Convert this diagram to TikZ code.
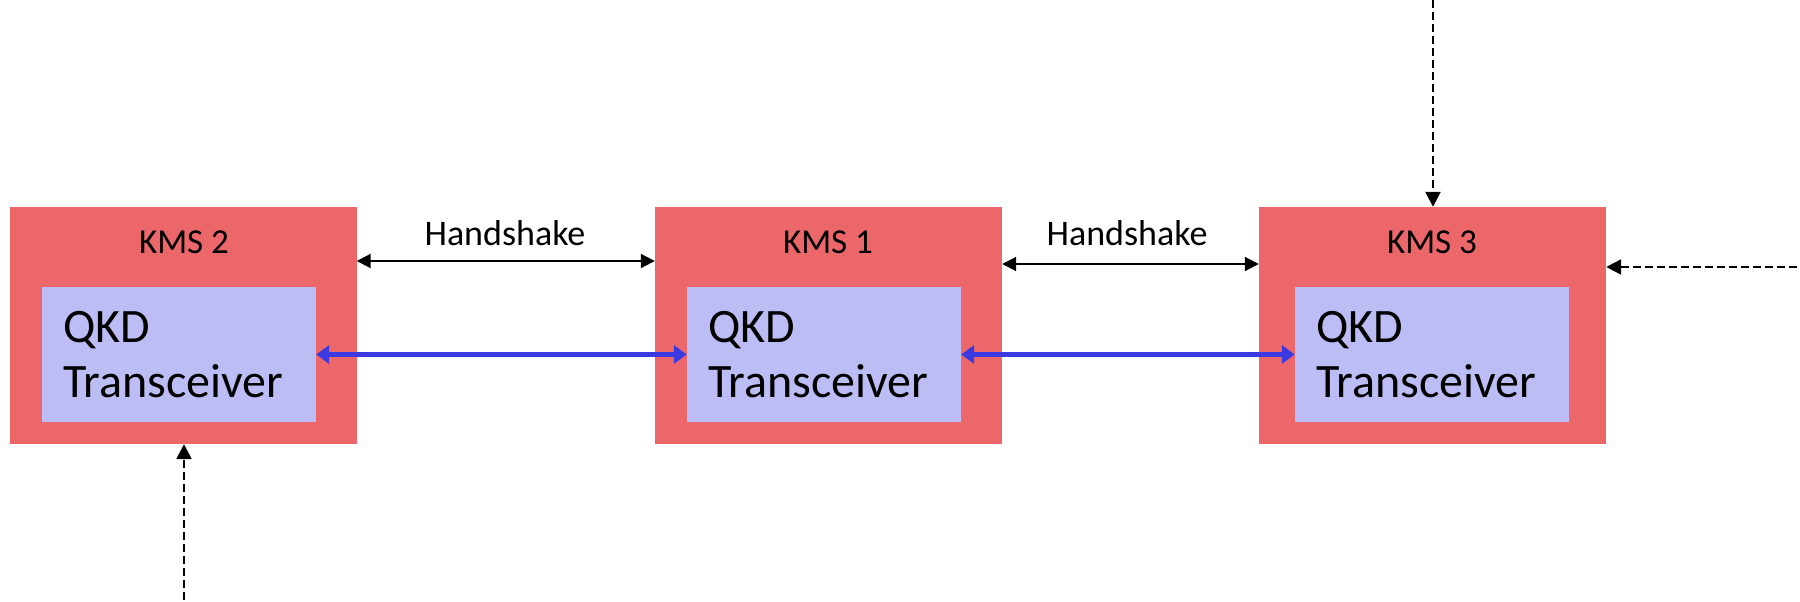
\documentclass[tikz,border=0pt]{standalone}
\usepackage{fontspec}
\setmainfont{Carlito}
\usetikzlibrary{arrows.meta}
\definecolor{kmsred}{HTML}{EC6769}
\definecolor{qkdfill}{HTML}{BDBDF5}
\definecolor{linkblue}{HTML}{3A3AE0}
\tikzset{
  kmsbox/.style={fill=kmsred, draw=none, minimum width=347pt, minimum height=237pt, inner sep=0pt},
  qkdbox/.style={fill=qkdfill, draw=none, minimum width=274pt, minimum height=135pt, inner xsep=21pt, inner ysep=0pt,
    text width=232pt, align=left, font=\fontsize{48}{55}\selectfont},
  kmslabel/.style={font=\fontsize{35}{40}\selectfont, inner sep=0pt},
  hslabel/.style={font=\fontsize{36}{40}\selectfont, inner sep=0pt},
  hs/.style={black, line width=2pt, {Triangle[length=14pt,width=14pt]}-{Triangle[length=14pt,width=14pt]}},
  qlink/.style={linkblue, line width=5pt, {Triangle[length=13pt,width=18pt]}-{Triangle[length=13pt,width=18pt]}},
  ext/.style={black, line width=2.5pt, dash pattern=on 8pt off 4pt, -{Triangle[length=15pt,width=15pt]}}
}
\begin{document}
\begin{tikzpicture}[x=1pt,y=-1pt]
\useasboundingbox (0,0) rectangle (1800,602);
% KMS boxes
\node[kmsbox] (kms2) at (183,325.5) {};
\node[kmsbox] (kms1) at (828.5,325.5) {};
\node[kmsbox] (kms3) at (1432.5,325.5) {};
% KMS labels
\node[kmslabel] (kms2t) at (184,242) {KMS 2};
\node[kmslabel] (kms1t) at (828,242) {KMS 1};
\node[kmslabel] (kms3t) at (1432,242) {KMS 3};
% QKD boxes
\node[qkdbox] (q2) at (179,354.5) {QKD\\Transceiver};
\node[qkdbox] (q1) at (824,354.5) {QKD\\Transceiver};
\node[qkdbox] (q3) at (1432,354.5) {QKD\\Transceiver};
% Handshake
\node[hslabel] (hs1) at (505,233) {Handshake};
\node[hslabel] (hs2) at (1127,233) {Handshake};
\draw[hs] (kms2.east |- 0,261) -- (kms1.west |- 0,261);
\draw[hs] (kms1.east |- 0,264) -- (kms3.west |- 0,264);
% quantum links
\draw[qlink] (q2.east) -- (q1.west);
\draw[qlink] (q1.east) -- (q3.west);
% external dashed arrows
\coordinate (topin) at (1433,0);
\coordinate (rightin) at (1797,267);
\coordinate (botin) at (184,600);
\draw[ext] (topin) -- (topin |- kms3.north);
\draw[ext] (rightin) -- (kms3.east |- rightin);
\draw[ext] (botin) -- (botin |- kms2.south);
\end{tikzpicture}
\end{document}
